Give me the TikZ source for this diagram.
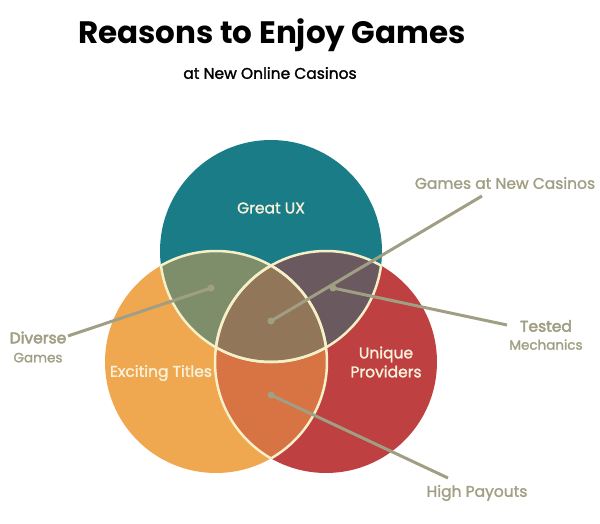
\documentclass[tikz,border=0pt]{standalone}
\usepackage{fontspec}
\setmainfont{Poppins}
\newfontfamily\medf{Poppins}[FakeBold=1.5]
\newfontfamily\semf{Poppins}[FakeBold=3]
\definecolor{cteal}{HTML}{1A7C87}
\definecolor{corange}{HTML}{EFA850}
\definecolor{cred}{HTML}{BF4040}
\definecolor{cgreen}{HTML}{7E8E6A}
\definecolor{cpurple}{HTML}{6A5A60}
\definecolor{cor}{HTML}{D87344}
\definecolor{ccenter}{HTML}{92765A}
\definecolor{ccream}{HTML}{F6F0C8}
\definecolor{clabel}{HTML}{A09F83}
\definecolor{cinner}{HTML}{F8F2DC}
\tikzset{
  conn/.style={draw=clabel, line width=3pt},
  dotn/.style={circle, fill=clabel, inner sep=0pt, minimum size=7pt},
  seam/.style={draw=ccream, line width=2.5pt},
  inlab/.style={text=cinner, font=\medf\fontsize{15.5}{18}\selectfont, align=center},
  outlab/.style={text=clabel, font=\medf\fontsize{15.5}{17}\selectfont, align=center},
}
\def\CT{(271,251) circle (111)}
\def\CL{(216,362) circle (111)}
\def\CR{(326,362) circle (111)}
\begin{document}
\begin{tikzpicture}[x=1pt,y=-1pt]
\useasboundingbox (0,0) rectangle (600,524);
% base circles
\fill[cteal] \CT;
\fill[corange] \CL;
\fill[cred] \CR;
% pairwise overlaps
\begin{scope}\clip \CT; \fill[cgreen] \CL; \end{scope}
\begin{scope}\clip \CT; \fill[cpurple] \CR; \end{scope}
\begin{scope}\clip \CL; \fill[cor] \CR; \end{scope}
\begin{scope}\clip \CT; \clip \CL; \fill[ccenter] \CR; \end{scope}
% seams
\begin{scope}\clip \CL; \draw[seam] \CT; \draw[seam] \CR; \end{scope}
\begin{scope}\clip \CR; \draw[seam] \CT; \draw[seam] \CL; \end{scope}
\begin{scope}\clip \CT; \draw[seam] \CL; \draw[seam] \CR; \end{scope}
% titles
\node (title) at (272,35) {\fontsize{31}{35}\selectfont\bfseries Reasons to Enjoy Games};
\node (sub) at (270,73) {\medf\fontsize{15.5}{17}\selectfont at New Online Casinos};
% inner labels
\node[inlab] (ux) at (271,208) {Great UX};
\node[inlab] (ex) at (161,373) {Exciting Titles};
\node[inlab, font=\medf\fontsize{15.5}{19}\selectfont] (up) at (386,362) {Unique\\Providers};
% outer labels
\node[outlab] (gnc) at (505,183) {Games at New Casinos};
\node[outlab, font=\semf\fontsize{15.5}{19}\selectfont] (dv) at (38,347) {Diverse\\{\medf\fontsize{13.5}{15}\selectfont Games}};
\node[outlab, font=\semf\fontsize{15.5}{18}\selectfont] (tm) at (546,335) {Tested\\{\medf\fontsize{13.5}{15}\selectfont Mechanics}};
\node[outlab] (hp) at (477,493) {High Payouts};
% dots
\node[dotn] (d1) at (271,321) {};
\node[dotn] (d2) at (211,288) {};
\node[dotn] (d3) at (333,288) {};
\node[dotn] (d4) at (271,395) {};
\coordinate (e1) at (482,196);
\coordinate (e2) at (68,336);
\coordinate (e3) at (507,325);
\coordinate (e4) at (448,478);
\draw[conn] (d1.center) -- (e1);
\draw[conn] (d2.center) -- (e2);
\draw[conn] (d3.center) -- (e3);
\draw[conn] (d4.center) -- (e4);
\end{tikzpicture}
\end{document}
